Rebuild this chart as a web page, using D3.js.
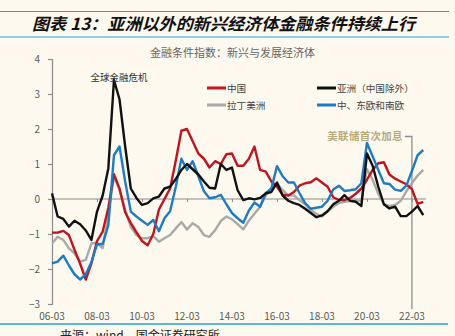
<!DOCTYPE html>
<html>
<head>
<meta charset="utf-8">
<script src="https://cdn.jsdelivr.net/npm/d3@7"></script>
<style>
  html, body { margin: 0; padding: 0; background: #fdf9ee; }
  svg { display: block; }
  text { font-family: "Noto Sans CJK SC", "Noto Sans", sans-serif; }
</style>
</head>
<body>
<svg id="chart" width="455" height="336"></svg>
<script>
// Quarterly financial-conditions index, 2006-03 .. 2022-09
const startMonth = "2006-03";
const quarterCount = 67;

const china = [
  -0.96, -0.96, -0.91, -1.03, -1.45, -1.85, -2.30, -1.84, -1.20, -0.93,
  -0.25, 0.71, 0.30, -0.38, -0.69, -0.95, -1.20, -1.32, -1.00, -0.30,
  0.00, 0.30, 1.10, 1.95, 2.00, 1.65, 1.30, 1.15, 0.90, 1.08,
  1.00, 1.28, 1.30, 0.95, 0.95, 1.15, 1.50, 0.83, 0.78, 0.50,
  0.35, 0.12, 0.10, 0.20, 0.38, 0.45, 0.48, 0.59, 0.47, 0.35,
  0.05, -0.03, -0.03, 0.03, 0.15, 0.30, 0.55, 0.83, 1.02, 1.05,
  0.70, 0.58, 0.50, 0.42, 0.28, -0.14, -0.08
];
const asiaExChina = [
  0.16, -0.50, -0.57, -0.79, -0.62, -0.72, -0.90, -1.17, -0.36, 0.10,
  0.88, 3.40, 2.85, 1.50, 0.30, 0.03, -0.17, -0.12, 0.02, 0.07,
  0.30, 0.35, 0.57, 0.83, 1.00, 0.85, 0.70, 0.50, 0.32, 0.30,
  1.00, 0.83, 0.90, 0.25, -0.03, 0.02, -0.01, 0.03, 0.16, 0.20,
  0.47, 0.10, -0.05, -0.12, -0.17, -0.28, -0.40, -0.52, -0.47, -0.35,
  -0.15, -0.05, 0.11, -0.05, -0.08, -0.20, 1.30, 0.95, 0.35, -0.15,
  -0.27, -0.22, -0.49, -0.49, -0.36, -0.20, -0.46
];
const latinAmerica = [
  -1.27, -1.08, -1.17, -1.41, -1.55, -1.79, -1.74, -1.27, -1.25, -1.40,
  -0.45, 0.65, 0.26, -0.31, -0.80, -1.03, -1.12, -1.12, -1.06, -1.22,
  -1.12, -1.03, -0.84, -0.66, -0.87, -0.69, -0.80, -1.03, -1.08, -0.89,
  -0.63, -0.50, -0.58, -0.72, -0.87, -0.62, -0.42, -0.22, 0.10, 0.30,
  0.45, 0.25, 0.11, 0.10, -0.03, -0.15, -0.32, -0.42, -0.50, -0.35,
  -0.22, -0.12, -0.08, -0.06, -0.04, -0.05, 0.85, 0.55, 0.15, -0.15,
  -0.20, -0.17, -0.05, 0.22, 0.45, 0.67, 0.83
];
const cesEurope = [
  -1.84, -1.79, -1.62, -1.90, -2.15, -2.30, -2.15, -1.80, -1.30, -1.28,
  -0.75, 1.25, 1.50, 0.50, -0.36, -0.50, -0.62, -0.74, -0.60, -0.92,
  -0.55, -0.35, 0.35, 1.15, 0.83, 1.08, 0.65, 0.22, 0.02, 0.05,
  0.12, -0.15, -0.40, -0.55, -0.68, -0.33, -0.10, -0.22, 0.17, 0.30,
  0.94, 0.65, 0.47, 0.47, 0.17, -0.12, -0.28, -0.25, -0.22, -0.05,
  0.27, 0.38, 0.23, 0.25, 0.28, 0.45, 1.60, 1.22, 0.83, 0.45,
  0.43, 0.27, 0.23, 0.38, 0.80, 1.25, 1.40
];

const seriesNames = ["中国", "亚洲（中国除外）", "拉丁美洲", "中、东欧和南欧"];
const seriesColors = ["#c0151f", "#111111", "#a9a9a9", "#1f7bc4"];
const yTicks = [-3, -2, -1, 0, 1, 2, 3, 4];
const xTickLabels = ["06-03", "08-03", "10-03", "12-03", "14-03", "16-03", "18-03", "20-03", "22-03"];

const titleText = "图表 13：亚洲以外的新兴经济体金融条件持续上行";
const chartSubtitle = "金融条件指数：新兴与发展经济体";
const crisisNote = "全球金融危机";
const fedNote = "美联储首次加息";
const fedDate = "22-03";
const sourceText = "来源：wind，国金证券研究所";

const parseYM = d3.timeParse("%Y-%m");
const parseTick = d3.timeParse("%y-%m");
const start = parseYM(startMonth);
const dates = d3.range(quarterCount).map(i => d3.timeMonth.offset(start, 3 * i));

const svg = d3.select("#chart");
const W = 455, H = 336;
svg.append("rect").attr("width", W).attr("height", H).attr("fill", "#fdf9ee");

const blueRule = "#22a2e2";

// header
svg.append("line").attr("x1", 0).attr("x2", 449).attr("y1", 11.5).attr("y2", 11.5)
  .attr("stroke", blueRule).attr("stroke-width", 1.2);
svg.append("text").attr("x", 32).attr("y", 30)
  .attr("font-size", 16.5).attr("font-weight", "bold").attr("font-style", "italic")
  .attr("fill", "#111").attr("textLength", 383).attr("lengthAdjust", "spacingAndGlyphs")
  .text(titleText);
svg.append("line").attr("x1", 0).attr("x2", 449).attr("y1", 37).attr("y2", 37)
  .attr("stroke", blueRule).attr("stroke-width", 1.2);

// scales
const x = d3.scaleTime().domain([dates[0], dates[dates.length - 1]]).range([52, 423.25]);
const y = d3.scaleLinear().domain([-3, 4]).range([304, 59]);

const axisColor = "#8c8c8c";
const labelColor = "#595959";

// y axis
const yAxis = svg.append("g").attr("transform", "translate(52,0)")
  .call(d3.axisLeft(y).tickValues(yTicks).tickSize(4).tickPadding(8).tickFormat(d3.format("d")));
yAxis.select(".domain").attr("stroke", axisColor).attr("stroke-width", 1.2);
yAxis.selectAll(".tick line").attr("stroke", axisColor).attr("stroke-width", 1.2);
yAxis.selectAll(".tick text").attr("fill", labelColor).attr("font-size", 10)
  .attr("font-family", "'Open Sans', sans-serif");

// zero line with downward ticks
const xTickDates = xTickLabels.map(s => parseTick(s));
const xAxis = svg.append("g").attr("transform", `translate(0,${y(0)})`)
  .call(d3.axisBottom(x).tickValues(xTickDates).tickSize(3).tickSizeOuter(0).tickFormat(""));
xAxis.select(".domain").attr("stroke", axisColor).attr("stroke-width", 1.2)
  .attr("d", `M52,0H426`);
xAxis.selectAll(".tick line").attr("stroke", axisColor).attr("stroke-width", 1);

// x labels sit below the plot
svg.append("g").selectAll("text").data(xTickDates).join("text")
  .attr("x", d => x(d)).attr("y", 320)
  .attr("text-anchor", "middle").attr("font-size", 10)
  .attr("font-family", "'Open Sans', sans-serif")
  .attr("fill", labelColor)
  .text((d, i) => xTickLabels[i]);

// chart subtitle
svg.append("text").attr("x", 150).attr("y", 57).attr("font-size", 11)
  .attr("fill", "#666").text(chartSubtitle);

// Fed hike marker
const fx = x(parseTick(fedDate));
svg.append("path").attr("d", `M${fx - 7},136.5H${fx}V309`)
  .attr("fill", "none").attr("stroke", "#8f8f8f").attr("stroke-width", 1.3);
svg.append("text").attr("x", fx - 9).attr("y", 140).attr("text-anchor", "end")
  .attr("font-size", 10.5).attr("font-weight", "bold").attr("fill", "#b9aa7c")
  .attr("letter-spacing", 0.3)
  .text(fedNote);

// series lines
const allSeries = [china, asiaExChina, latinAmerica, cesEurope];
const line = d3.line().x((d, i) => x(dates[i])).y(d => y(d));
const drawOrder = [2, 0, 3, 1];
drawOrder.forEach(k => {
  svg.append("path").datum(allSeries[k])
    .attr("d", line).attr("fill", "none")
    .attr("stroke", seriesColors[k]).attr("stroke-width", 2.4)
    .attr("stroke-linejoin", "round");
});

// crisis note
svg.append("text").attr("x", 119).attr("y", 81).attr("text-anchor", "middle")
  .attr("font-size", 9.5).attr("fill", "#333").text(crisisNote);

// legend
const legendPos = [[207, 88], [317, 88], [207, 105], [317, 105]];
seriesNames.forEach((name, k) => {
  const [lx, ly] = legendPos[k];
  svg.append("line").attr("x1", lx).attr("x2", lx + 19).attr("y1", ly).attr("y2", ly)
    .attr("stroke", seriesColors[k]).attr("stroke-width", 3);
  svg.append("text").attr("x", lx + 20).attr("y", ly + 3.5)
    .attr("font-size", 9.6).attr("fill", "#444").text(name);
});

// footer
svg.append("line").attr("x1", 0).attr("x2", 448).attr("y1", 324).attr("y2", 324)
  .attr("stroke", blueRule).attr("stroke-width", 1.5);
svg.append("text").attr("x", 60).attr("y", 340).attr("font-size", 12)
  .attr("fill", "#222").text(sourceText);
</script>
</body>
</html>
